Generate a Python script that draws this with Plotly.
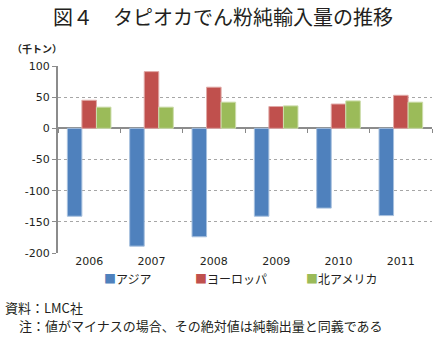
import plotly.graph_objects as go

years = ["2006", "2007", "2008", "2009", "2010", "2011"]
asia = [-141, -189, -174, -141, -128, -140]
europe = [45, 91, 66, 35, 39, 53]
namerica = [34, 34, 42, 36, 44, 42]
series_names = ["アジア", "ヨーロッパ", "北アメリカ"]
y_ticks = [100, 50, 0, -50, -100, -150, -200]

FONT = "Noto Sans CJK JP"
NUMFONT = "DejaVu Sans"
colors = ["#4F81BD", "#C0504D", "#9BBB59"]
edges = ["#A7C0DE", "#E0A8A6", "#CDDDAC"]
legend_x = [0.118, 0.361, 0.658]  # paper x of legend entries (left edge)

fig = go.Figure()
for name, vals, c, e in zip(series_names, [asia, europe, namerica], colors, edges):
    fig.add_trace(go.Bar(x=years, y=vals, name=name, marker=dict(color=c, line=dict(color=e, width=1))))

# invisible trace for the zero-line tick axis
fig.add_trace(go.Scatter(x=[0], y=[0], xaxis="x2", mode="markers", marker=dict(opacity=0),
                         showlegend=False, hoverinfo="skip"))

annotations = [
    dict(text="図４　タピオカでん粉純輸入量の推移", xref="paper", yref="paper",
         x=0.441, y=1.267, xanchor="center", yanchor="middle", showarrow=False,
         font=dict(size=20, family=FONT, color="#231F20")),
    dict(text="<b>（千トン）</b>", xref="paper", yref="paper",
         x=-0.128, y=1.096, xanchor="left", yanchor="middle", showarrow=False,
         font=dict(size=10, family=FONT)),
    dict(text="資料：LMC社", xref="paper", yref="paper",
         x=-0.147, y=-0.289, xanchor="left", yanchor="middle", showarrow=False,
         font=dict(size=13, family=FONT)),
    dict(text="注：値がマイナスの場合、その絶対値は純輸出量と同義である", xref="paper", yref="paper",
         x=-0.110, y=-0.39, xanchor="left", yanchor="middle", showarrow=False,
         font=dict(size=13, family=FONT)),
]
for name, c, lx in zip(series_names, colors, legend_x):
    annotations.append(dict(
        text=f"<span style='color:{c}'>■</span>{name}", xref="paper", yref="paper",
        x=lx, y=-0.134, xanchor="left", yanchor="middle", showarrow=False,
        font=dict(size=12, family=FONT, color="#231F20")))

fig.update_layout(
    width=440, height=337,
    margin=dict(l=58, r=8, t=66, b=84),
    paper_bgcolor="white", plot_bgcolor="white",
    font=dict(family=FONT, color="#231F20", size=12),
    barmode="group", bargap=0.3, bargroupgap=0,
    showlegend=False,
    xaxis=dict(type="category", showline=False, ticks="", showgrid=False,
               tickfont=dict(size=11, family=NUMFONT, color="#231F20"), range=[-0.5, 5.5]),
    xaxis2=dict(overlaying="x", anchor="free", position=2/3, range=[-0.5, 5.5],
                tickmode="array", tickvals=[-0.5, 0.5, 1.5, 2.5, 3.5, 4.5, 5.5],
                ticks="outside", ticklen=4, tickcolor="#888888", tickwidth=1,
                showticklabels=False, showline=False, showgrid=False, zeroline=False),
    yaxis=dict(range=[-200, 100], tickmode="array", tickvals=y_ticks,
               ticktext=[str(v) for v in y_ticks],
               showgrid=True, gridcolor="#A6A6A6", griddash="dot", gridwidth=1,
               zeroline=True, zerolinecolor="#8C8C8C", zerolinewidth=2,
               showline=True, linecolor="#8C8C8C", linewidth=2,
               ticks="outside", ticklen=4, tickcolor="#8C8C8C",
               tickfont=dict(size=11, family=NUMFONT, color="#231F20")),
    annotations=annotations,
)

fig.write_html("out.html")
